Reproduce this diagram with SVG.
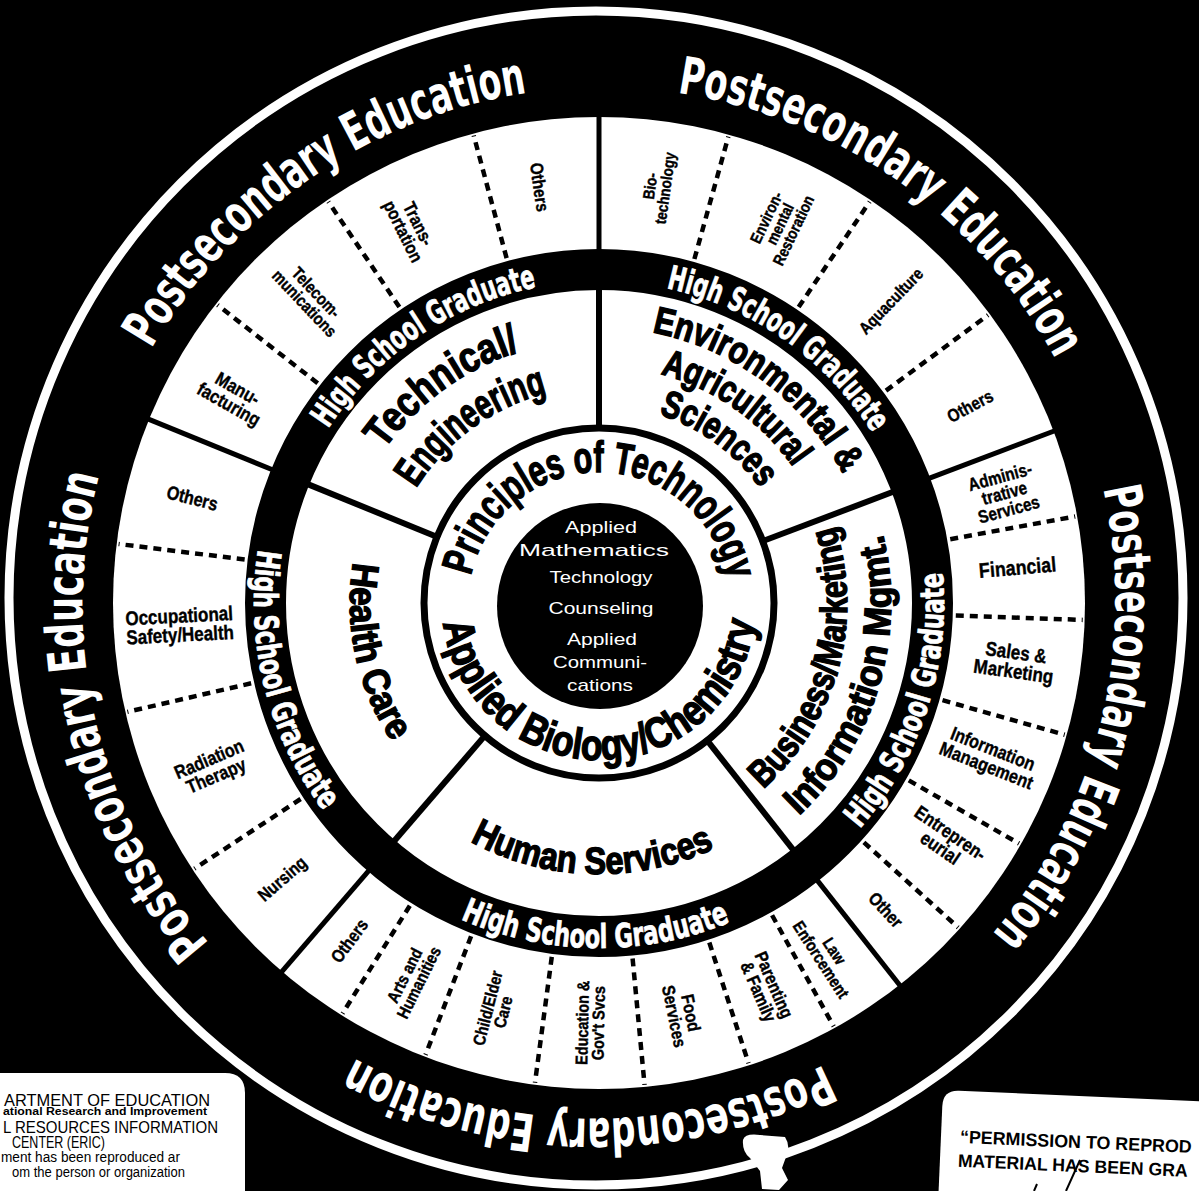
<svg xmlns="http://www.w3.org/2000/svg" width="1199" height="1191" viewBox="0 0 1199 1191">
<style>
.pe{font-family:"DejaVu Sans",sans-serif;font-weight:bold;font-size:52px;fill:#fff;text-anchor:middle}
.hsg{font-family:"DejaVu Sans",sans-serif;font-weight:bold;font-size:33px;fill:#fff;stroke:#fff;stroke-width:0.8;text-anchor:middle}
.big{font-family:"Liberation Sans",Arial,sans-serif;font-weight:bold;fill:#000;stroke:#000;stroke-width:1.4;text-anchor:middle}
.lab{font-family:"Liberation Sans",Arial,sans-serif;font-weight:bold;fill:#000;stroke:#000;stroke-width:0.4;text-anchor:middle}
.core{font-family:"Liberation Sans",Arial,sans-serif;font-size:17px;fill:#fff;text-anchor:middle}
.div{stroke:#000;stroke-width:6}
.sol{stroke:#000;stroke-width:5}
.dash{stroke:#000;stroke-width:4.5;stroke-dasharray:8 6}
.note{font-family:"Liberation Sans",Arial,sans-serif;fill:#000}
</style>
<defs>
<path id="pePath" d="M907.7 1012.7 A513 513 0 1 1 290.3 193.3 A513 513 0 1 1 907.7 1012.7"/>
<path id="cw131" d="M599 734 A131 131 0 1 1 599 472 A131 131 0 1 1 599 734"/>
<path id="cw322" d="M599 925 A322 322 0 1 1 599 281 A322 322 0 1 1 599 925"/>
<path id="cw264" d="M599 867 A264 264 0 1 1 599 339 A264 264 0 1 1 599 867"/>
<path id="cw216" d="M599 819 A216 216 0 1 1 599 387 A216 216 0 1 1 599 819"/>
<path id="cw276" d="M599 879 A276 276 0 1 1 599 327 A276 276 0 1 1 599 879"/>
<path id="cw237" d="M599 840 A237 237 0 1 1 599 366 A237 237 0 1 1 599 840"/>
<path id="cw198" d="M599 801 A198 198 0 1 1 599 405 A198 198 0 1 1 599 801"/>
<path id="ccw157" d="M599 446 A157 157 0 1 0 599 760 A157 157 0 1 0 599 446"/>
<path id="ccw345" d="M599 258 A345 345 0 1 0 599 948 A345 345 0 1 0 599 258"/>
<path id="ccw248" d="M599 355 A248 248 0 1 0 599 851 A248 248 0 1 0 599 355"/>
<path id="ccw292" d="M599 311 A292 292 0 1 0 599 895 A292 292 0 1 0 599 311"/>
<path id="ccw271" d="M599 332 A271 271 0 1 0 599 874 A271 271 0 1 0 599 332"/>
<path id="ccw249" d="M599 354 A249 249 0 1 0 599 852 A249 249 0 1 0 599 354"/>
</defs>

<g id="background">
<rect x="0" y="0" width="1199" height="1191" fill="#000"/>
<circle cx="596" cy="598" r="587" fill="none" stroke="#fff" stroke-width="9"/>
<path d="M743 1140 Q745 1133 760 1135 L785 1137 Q791 1146 786 1157 L782 1168 L788 1180 L779 1190 L762 1189 L760 1171 L750 1158 Q742 1152 743 1140 Z" fill="#fff"/>
</g>

<g id="rings">
<circle cx="599" cy="603" r="486" fill="#fff"/>
<circle cx="599" cy="603" r="333.5" fill="none" stroke="#000" stroke-width="41"/>
<circle cx="599" cy="603" r="175" fill="none" stroke="#000" stroke-width="7"/>
</g>

<g id="connectors">
<g transform="translate(599 603)">
<line class="div" x1="172" y1="0" x2="316" y2="0" transform="rotate(-90)"/>
<line class="div" x1="172" y1="0" x2="316" y2="0" transform="rotate(-20.7)"/>
<line class="div" x1="172" y1="0" x2="316" y2="0" transform="rotate(51.8)"/>
<line class="div" x1="172" y1="0" x2="316" y2="0" transform="rotate(130.7)"/>
<line class="div" x1="172" y1="0" x2="316" y2="0" transform="rotate(202.2)"/>
<line class="sol" x1="352" y1="0" x2="488" y2="0" transform="rotate(-90)"/>
<line class="sol" x1="352" y1="0" x2="488" y2="0" transform="rotate(-20.7)"/>
<line class="sol" x1="352" y1="0" x2="488" y2="0" transform="rotate(51.8)"/>
<line class="sol" x1="352" y1="0" x2="488" y2="0" transform="rotate(130.7)"/>
<line class="sol" x1="352" y1="0" x2="488" y2="0" transform="rotate(202.2)"/>
<line class="dash" x1="357" y1="0" x2="484" y2="0" transform="rotate(218)"/>
<line class="dash" x1="357" y1="0" x2="484" y2="0" transform="rotate(236)"/>
<line class="dash" x1="357" y1="0" x2="484" y2="0" transform="rotate(255)"/>
<line class="dash" x1="357" y1="0" x2="484" y2="0" transform="rotate(-74.5)"/>
<line class="dash" x1="357" y1="0" x2="484" y2="0" transform="rotate(-56)"/>
<line class="dash" x1="357" y1="0" x2="484" y2="0" transform="rotate(-36.5)"/>
<line class="dash" x1="357" y1="0" x2="484" y2="0" transform="rotate(-10.3)"/>
<line class="dash" x1="357" y1="0" x2="484" y2="0" transform="rotate(2)"/>
<line class="dash" x1="357" y1="0" x2="484" y2="0" transform="rotate(15.8)"/>
<line class="dash" x1="357" y1="0" x2="484" y2="0" transform="rotate(29.8)"/>
<line class="dash" x1="357" y1="0" x2="484" y2="0" transform="rotate(42.1)"/>
<line class="dash" x1="357" y1="0" x2="484" y2="0" transform="rotate(61)"/>
<line class="dash" x1="357" y1="0" x2="484" y2="0" transform="rotate(72)"/>
<line class="dash" x1="357" y1="0" x2="484" y2="0" transform="rotate(84.6)"/>
<line class="dash" x1="357" y1="0" x2="484" y2="0" transform="rotate(97.6)"/>
<line class="dash" x1="357" y1="0" x2="484" y2="0" transform="rotate(111)"/>
<line class="dash" x1="357" y1="0" x2="484" y2="0" transform="rotate(122)"/>
<line class="dash" x1="357" y1="0" x2="484" y2="0" transform="rotate(146.7)"/>
<line class="dash" x1="357" y1="0" x2="484" y2="0" transform="rotate(167)"/>
<line class="dash" x1="357" y1="0" x2="484" y2="0" transform="rotate(187)"/>
</g>
</g>

<g id="core">
<circle cx="600" cy="606" r="103" fill="#000"/>
<text class="core" x="601" y="533" textLength="72" lengthAdjust="spacingAndGlyphs">Applied</text>
<text class="core" x="594" y="556" textLength="150" lengthAdjust="spacingAndGlyphs">Mathematics</text>
<text class="core" x="601" y="583" textLength="103" lengthAdjust="spacingAndGlyphs">Technology</text>
<text class="core" x="601" y="614" textLength="105" lengthAdjust="spacingAndGlyphs">Counseling</text>
<text class="core" x="602" y="645" textLength="70" lengthAdjust="spacingAndGlyphs">Applied</text>
<text class="core" x="600" y="668" textLength="94" lengthAdjust="spacingAndGlyphs">Communi-</text>
<text class="core" x="600" y="691" textLength="66" lengthAdjust="spacingAndGlyphs">cations</text>
</g>

<g id="principles">
<text class="big" font-size="44"><textPath href="#cw131" startOffset="413.3" textLength="360.6" lengthAdjust="spacingAndGlyphs">Principles of Technology</textPath></text>
<text class="big" font-size="43"><textPath href="#ccw157" startOffset="493.9" textLength="454.6" lengthAdjust="spacingAndGlyphs">Applied Biology/Chemistry</textPath></text>
</g>

<g id="technical-engineering">
<text class="big" font-size="42"><textPath href="#cw264" startOffset="663.5" textLength="170.5" lengthAdjust="spacingAndGlyphs">Technical/</textPath></text>
<text class="big" font-size="42"><textPath href="#cw216" startOffset="542.9" textLength="165.9" lengthAdjust="spacingAndGlyphs">Engineering</textPath></text>
<text class="hsg"><textPath href="#cw322" startOffset="818.8" textLength="258.5" lengthAdjust="spacingAndGlyphs">High School Graduate</textPath></text>
<text class="pe"><textPath href="#pePath" startOffset="1645.2" textLength="470" lengthAdjust="spacingAndGlyphs">Postsecondary Education</textPath></text>
<text class="lab" font-size="19" transform="translate(599 603) rotate(209.5) translate(420 0) rotate(180) scale(0.85 1)"><tspan x="0" y="-2.2">Manu-</tspan><tspan x="0" dy="18">facturing</tspan></text>
<text class="lab" font-size="17" transform="translate(599 603) rotate(226.6) translate(420 0) rotate(180) scale(0.85 1)"><tspan x="0" y="-2">Telecom-</tspan><tspan x="0" dy="16">munications</tspan></text>
<text class="lab" font-size="18" transform="translate(599 603) rotate(243.4) translate(420 0) rotate(180) scale(0.85 1)"><tspan x="0" y="-2.1">Trans-</tspan><tspan x="0" dy="17">portation</tspan></text>
<text class="lab" font-size="18" transform="translate(599 603) rotate(261.9) translate(420 0) rotate(180) scale(0.85 1)" y="6.5">Others</text>
</g>

<g id="environmental-agricultural">
<text class="big" font-size="38"><textPath href="#cw276" startOffset="1042.9" textLength="245.7" lengthAdjust="spacingAndGlyphs">Environmental &amp;</textPath></text>
<text class="big" font-size="38"><textPath href="#cw237" startOffset="889.3" textLength="165.5" lengthAdjust="spacingAndGlyphs">Agricultural</textPath></text>
<text class="big" font-size="38"><textPath href="#cw198" startOffset="746.4" textLength="127.9" lengthAdjust="spacingAndGlyphs">Sciences</textPath></text>
<text class="hsg"><textPath href="#cw322" startOffset="1208.3" textLength="258.5" lengthAdjust="spacingAndGlyphs">High School Graduate</textPath></text>
<text class="pe"><textPath href="#pePath" startOffset="2270.6" textLength="480" lengthAdjust="spacingAndGlyphs">Postsecondary Education</textPath></text>
<text class="lab" font-size="16" transform="translate(599 603) rotate(-82) translate(420 0) scale(0.85 1)"><tspan x="0" y="-1.8">Bio-</tspan><tspan x="0" dy="15">technology</tspan></text>
<text class="lab" font-size="16" transform="translate(599 603) rotate(-64.5) translate(420 0) scale(0.85 1)"><tspan x="0" y="-9.4">Environ-</tspan><tspan x="0" dy="15">mental</tspan><tspan x="0" dy="15">Restoration</tspan></text>
<text class="lab" font-size="17" transform="translate(599 603) rotate(-46) translate(420 0) scale(0.85 1)" y="6.1">Aquaculture</text>
<text class="lab" font-size="18" transform="translate(599 603) rotate(-28) translate(420 0) scale(0.85 1)" y="6.5">Others</text>
</g>

<g id="business-marketing">
<text class="big" font-size="38"><textPath href="#ccw248" startOffset="1102.4" textLength="289" lengthAdjust="spacingAndGlyphs">Business/Marketing</textPath></text>
<text class="big" font-size="38"><textPath href="#ccw292" startOffset="1290.9" textLength="308.3" lengthAdjust="spacingAndGlyphs">Information Mgmt.</textPath></text>
<text class="hsg"><textPath href="#ccw345" startOffset="1517.4" textLength="277" lengthAdjust="spacingAndGlyphs">High School Graduate</textPath></text>
<text class="pe"><textPath href="#pePath" startOffset="2886.6" textLength="476" lengthAdjust="spacingAndGlyphs">Postsecondary Education</textPath></text>
<text class="lab" font-size="18" transform="translate(599 603) rotate(-15.2) translate(420 0) scale(0.85 1)"><tspan x="0" y="-10.6">Adminis-</tspan><tspan x="0" dy="17">trative</tspan><tspan x="0" dy="17">Services</tspan></text>
<text class="lab" font-size="21" transform="translate(599 603) rotate(-4.9) translate(420 0) scale(0.85 1)" y="7.6">Financial</text>
<text class="lab" font-size="20" transform="translate(599 603) rotate(8) translate(420 0) scale(0.85 1)"><tspan x="0" y="-2.3">Sales &amp;</tspan><tspan x="0" dy="19">Marketing</tspan></text>
<text class="lab" font-size="19" transform="translate(599 603) rotate(21.5) translate(420 0) scale(0.85 1)"><tspan x="0" y="-2.2">Information</tspan><tspan x="0" dy="18">Management</tspan></text>
<text class="lab" font-size="19" transform="translate(599 603) rotate(34.4) translate(420 0) scale(0.85 1)"><tspan x="0" y="-2.2">Entrepren-</tspan><tspan x="0" dy="18">eurial</tspan></text>
<text class="lab" font-size="18" transform="translate(599 603) rotate(46.9) translate(420 0) scale(0.85 1)" y="6.5">Other</text>
</g>

<g id="human-services">
<text class="big" font-size="38"><textPath href="#ccw271" startOffset="843.8" textLength="254" lengthAdjust="spacingAndGlyphs">Human Services</textPath></text>
<text class="hsg"><textPath href="#ccw345" startOffset="1079.6" textLength="277" lengthAdjust="spacingAndGlyphs">High School Graduate</textPath></text>
<text class="pe"><textPath href="#pePath" startOffset="342.9" textLength="488" lengthAdjust="spacingAndGlyphs">Postsecondary Education</textPath></text>
<text class="lab" font-size="17" transform="translate(599 603) rotate(57) translate(420 0) scale(0.85 1)"><tspan x="0" y="-2">Law</tspan><tspan x="0" dy="16">Enforcement</tspan></text>
<text class="lab" font-size="18" transform="translate(599 603) rotate(66.5) translate(420 0) scale(0.85 1)"><tspan x="0" y="-2.1">Parenting</tspan><tspan x="0" dy="17">&amp; Family</tspan></text>
<text class="lab" font-size="18" transform="translate(599 603) rotate(78.5) translate(420 0) scale(0.85 1)"><tspan x="0" y="-2.1">Food</tspan><tspan x="0" dy="17">Services</tspan></text>
<text class="lab" font-size="17" transform="translate(599 603) rotate(91.2) translate(420 0) rotate(180) scale(0.85 1)"><tspan x="0" y="-2">Education &amp;</tspan><tspan x="0" dy="16">Gov't Svcs</tspan></text>
<text class="lab" font-size="17" transform="translate(599 603) rotate(104.3) translate(420 0) rotate(180) scale(0.85 1)"><tspan x="0" y="-2">Child/Elder</tspan><tspan x="0" dy="16">Care</tspan></text>
<text class="lab" font-size="17" transform="translate(599 603) rotate(116.5) translate(420 0) rotate(180) scale(0.85 1)"><tspan x="0" y="-2">Arts and</tspan><tspan x="0" dy="16">Humanities</tspan></text>
<text class="lab" font-size="18" transform="translate(599 603) rotate(126.5) translate(420 0) rotate(180) scale(0.85 1)" y="6.5">Others</text>
</g>

<g id="health-care">
<text class="big" font-size="38"><textPath href="#ccw249" startOffset="444.2" textLength="188.2" lengthAdjust="spacingAndGlyphs">Health Care</textPath></text>
<text class="hsg"><textPath href="#ccw345" startOffset="626.2" textLength="277" lengthAdjust="spacingAndGlyphs">High School Graduate</textPath></text>
<text class="pe"><textPath href="#pePath" startOffset="1022.5" textLength="500" lengthAdjust="spacingAndGlyphs">Postsecondary Education</textPath></text>
<text class="lab" font-size="18" transform="translate(599 603) rotate(139) translate(420 0) rotate(180) scale(0.85 1)" y="6.5">Nursing</text>
<text class="lab" font-size="19" transform="translate(599 603) rotate(157) translate(420 0) rotate(180) scale(0.85 1)"><tspan x="0" y="-2.2">Radiation</tspan><tspan x="0" dy="18">Therapy</tspan></text>
<text class="lab" font-size="20" transform="translate(599 603) rotate(177) translate(420 0) rotate(180) scale(0.85 1)"><tspan x="0" y="-2.3">Occupational</tspan><tspan x="0" dy="19">Safety/Health</tspan></text>
<text class="lab" font-size="19" transform="translate(599 603) rotate(194.5) translate(420 0) rotate(180) scale(0.85 1)" y="6.8">Others</text>
</g>

<g id="eric-notice">
<path d="M-5 1073 H225 Q245 1073 245 1093 V1196 H-5 Z" fill="#fff"/>
<text class="note" x="4" y="1106" font-size="16.5" textLength="206" lengthAdjust="spacingAndGlyphs">ARTMENT OF EDUCATION</text>
<text class="note" x="3" y="1115" font-size="10.5" font-weight="bold" textLength="204" lengthAdjust="spacingAndGlyphs">ational Research and Improvement</text>
<text class="note" x="3" y="1133" font-size="16.5" textLength="215" lengthAdjust="spacingAndGlyphs">L RESOURCES INFORMATION</text>
<text class="note" x="12" y="1148" font-size="16" textLength="93" lengthAdjust="spacingAndGlyphs">CENTER (ERIC)</text>
<text class="note" x="1" y="1162" font-size="15.5" textLength="179" lengthAdjust="spacingAndGlyphs">ment has been reproduced ar</text>
<text class="note" x="12" y="1177" font-size="15.5" textLength="173" lengthAdjust="spacingAndGlyphs">om the person or organization</text>
</g>

<g id="permission-notice">
<g transform="rotate(2.5 943 1090)">
<path d="M943 1210 V1106 Q943 1090 959 1090 H1260 V1210 Z" fill="#fff"/>
<text class="note" x="962" y="1142" font-size="18" font-weight="bold" textLength="232" lengthAdjust="spacingAndGlyphs">“PERMISSION TO REPROD</text>
<text class="note" x="961" y="1166" font-size="18" font-weight="bold" textLength="230" lengthAdjust="spacingAndGlyphs">MATERIAL HAS BEEN GRA</text>
</g>
<path d="M1080 1160 L1066 1191 M1037 1184 L1034 1191" stroke="#000" stroke-width="2" fill="none"/>
</g>
</svg>
